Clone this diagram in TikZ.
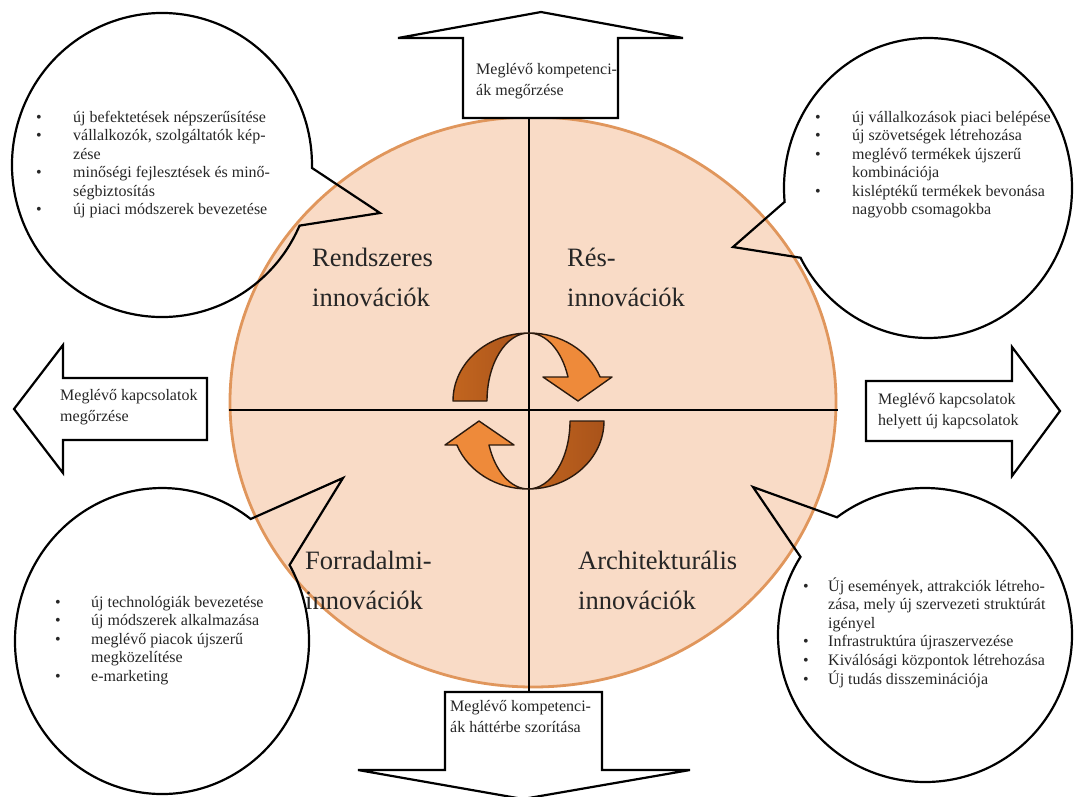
\documentclass[tikz,border=0pt]{standalone}
\usepackage{fontspec}
\setmainfont{Liberation Serif}

\definecolor{peach}{HTML}{F9DBC6}
\definecolor{ring}{HTML}{E0965C}
\definecolor{cycdark}{HTML}{C2651F}
\definecolor{cycdarker}{HTML}{A9531A}
\definecolor{cyclight}{HTML}{EE8A3A}
\definecolor{cycline}{HTML}{2B1A0E}
\definecolor{txt}{HTML}{262626}

\tikzset{
  outline/.style={draw=black, line width=2.2pt, line join=miter},
  blockarrow/.style={outline, fill=white},
  bubble/.style={outline},
  axisline/.style={draw=black, line width=1.8pt},
  quad/.style={font=\fontsize{26.5}{40}\selectfont, text=txt, inner sep=0pt, anchor=base west},
  note/.style={font=\fontsize{16}{21}\selectfont, text=txt, inner sep=0pt, anchor=base west},
  listtext/.style={font=\fontsize{16}{18.5}\selectfont, text=txt, inner sep=0pt, anchor=base west},
  darkpart/.style={left color=cycdark, right color=cycdarker, draw=cycline, line width=1.4pt, line join=round},
  lightpart/.style={fill=cyclight, draw=cycline, line width=1.4pt, line join=round},
}

\begin{document}
\begin{tikzpicture}[x=1pt,y=-1pt]
\useasboundingbox (0,0) rectangle (1074,796);

% central disc and its axes
\draw[fill=peach, draw=ring, line width=2.8pt] (533,402) ellipse [x radius=303, y radius=285];
\coordinate (axW) at (229,410);
\coordinate (axE) at (838,410);
\coordinate (axN) at (529,118);
\coordinate (axS) at (529,692);
\draw[axisline] (axW) -- (axE);
\draw[axisline] (axN) -- (axS);

% cycle arrows in the middle
\begin{scope}
  \draw[darkpart] (529,401) ++(180:76 and 68)
    arc[start angle=180, end angle=270, x radius=76, y radius=68]
    arc[start angle=270, end angle=180, x radius=42, y radius=68] -- cycle;
  \draw[lightpart] (529,401) ++(270:76 and 68)
    arc[start angle=270, end angle=339.3, x radius=76, y radius=68]
    -- (612,377) -- (578,401) -- (543,377) -- (568,377)
    arc[start angle=339.3, end angle=270, x radius=42, y radius=68] -- cycle;
\end{scope}
\begin{scope}[rotate around={180:(528.5,411)}]
  \draw[darkpart] (529,401) ++(180:76 and 68)
    arc[start angle=180, end angle=270, x radius=76, y radius=68]
    arc[start angle=270, end angle=180, x radius=42, y radius=68] -- cycle;
  \draw[lightpart] (529,401) ++(270:76 and 68)
    arc[start angle=270, end angle=339.3, x radius=76, y radius=68]
    -- (612,377) -- (578,401) -- (543,377) -- (568,377)
    arc[start angle=339.3, end angle=270, x radius=42, y radius=68] -- cycle;
\end{scope}

% quadrant titles
\node[quad] (qNW) at (312,266) {\begin{tabular}[t]{@{}l@{}}Rendszeres\\innovációk\end{tabular}};
\node[quad] (qNE) at (567,266) {\begin{tabular}[t]{@{}l@{}}Rés-\\innovációk\end{tabular}};
\node[quad] (qSW) at (305,569) {\begin{tabular}[t]{@{}l@{}}Forradalmi-\\innovációk\end{tabular}};
\node[quad] (qSE) at (578,569) {\begin{tabular}[t]{@{}l@{}}Architekturális\\innovációk\end{tabular}};

% block arrows
\draw[blockarrow] (541,12) -- (683,38) -- (618,38) -- (618,118) -- (463,118) -- (463,38) -- (398,38) -- cycle;
\draw[blockarrow] (445,692) -- (602,692) -- (602,770) -- (690,770) -- (523,799) -- (358,770) -- (445,770) -- cycle;
\draw[blockarrow] (14,409) -- (63,345) -- (63,378) -- (207,378) -- (207,440) -- (63,440) -- (63,473) -- cycle;
\draw[blockarrow] (1060,411) -- (1012,476) -- (1012,441) -- (866,441) -- (866,381) -- (1012,381) -- (1012,347) -- cycle;

\node[note] (aN) at (476,74) {\begin{tabular}[t]{@{}l@{}}Meglévő kompetenci-\\ák megőrzése\end{tabular}};
\node[note] (aS) at (450,711) {\begin{tabular}[t]{@{}l@{}}Meglévő kompetenci-\\ák háttérbe szorítása\end{tabular}};
\node[note] (aW) at (60,400) {\begin{tabular}[t]{@{}l@{}}Meglévő kapcsolatok\\megőrzése\end{tabular}};
\node[note] (aE) at (878,404) {\begin{tabular}[t]{@{}l@{}}Meglévő kapcsolatok\\helyett új kapcsolatok\end{tabular}};

% speech bubbles
\draw[bubble] (162,165) ++(23.5:150 and 152)
  arc[start angle=23.5, end angle=361.1, x radius=150, y radius=152] -- (380,213) -- cycle;
\draw[bubble] (928,188) ++(174.7:144 and 150)
  arc[start angle=174.7, end angle=512.3, x radius=144, y radius=150] -- (733,247) -- cycle;
\draw[bubble] (162,641) ++(330.2:147 and 153)
  arc[start angle=330.2, end angle=667.1, x radius=147, y radius=153] -- (343,478) -- cycle;
\draw[bubble] (925,635) ++(233.2:147 and 147)
  arc[start angle=233.2, end angle=572.1, x radius=147, y radius=147] -- (753,487) -- cycle;

\node[listtext] (lNW) at (36,122) {\begin{tabular}[t]{@{}p{37pt}@{}l@{}}
\textbullet & új befektetések népszerűsítése\\
\textbullet & vállalkozók, szolgáltatók kép-\\
 & zése\\
\textbullet & minőségi fejlesztések és minő-\\
 & ségbiztosítás\\
\textbullet & új piaci módszerek bevezetése
\end{tabular}};

\node[listtext] (lNE) at (815,122) {\begin{tabular}[t]{@{}p{37pt}@{}l@{}}
\textbullet & új vállalkozások piaci belépése\\
\textbullet & új szövetségek létrehozása\\
\textbullet & meglévő termékek újszerű\\
 & kombinációja\\
\textbullet & kisléptékű termékek bevonása\\
 & nagyobb csomagokba
\end{tabular}};

\node[listtext] (lSW) at (55,607) {\begin{tabular}[t]{@{}p{36pt}@{}l@{}}
\textbullet & új technológiák bevezetése\\
\textbullet & új módszerek alkalmazása\\
\textbullet & meglévő piacok újszerű\\
 & megközelítése\\
\textbullet & e-marketing
\end{tabular}};

\node[listtext] (lSE) at (803,591) {\begin{tabular}[t]{@{}p{25pt}@{}l@{}}
\textbullet & Új események, attrakciók létreho-\\
 & zása, mely új szervezeti struktúrát\\
 & igényel\\
\textbullet & Infrastruktúra újraszervezése\\
\textbullet & Kiválósági központok létrehozása\\
\textbullet & Új tudás disszeminációja
\end{tabular}};

\end{tikzpicture}
\end{document}
